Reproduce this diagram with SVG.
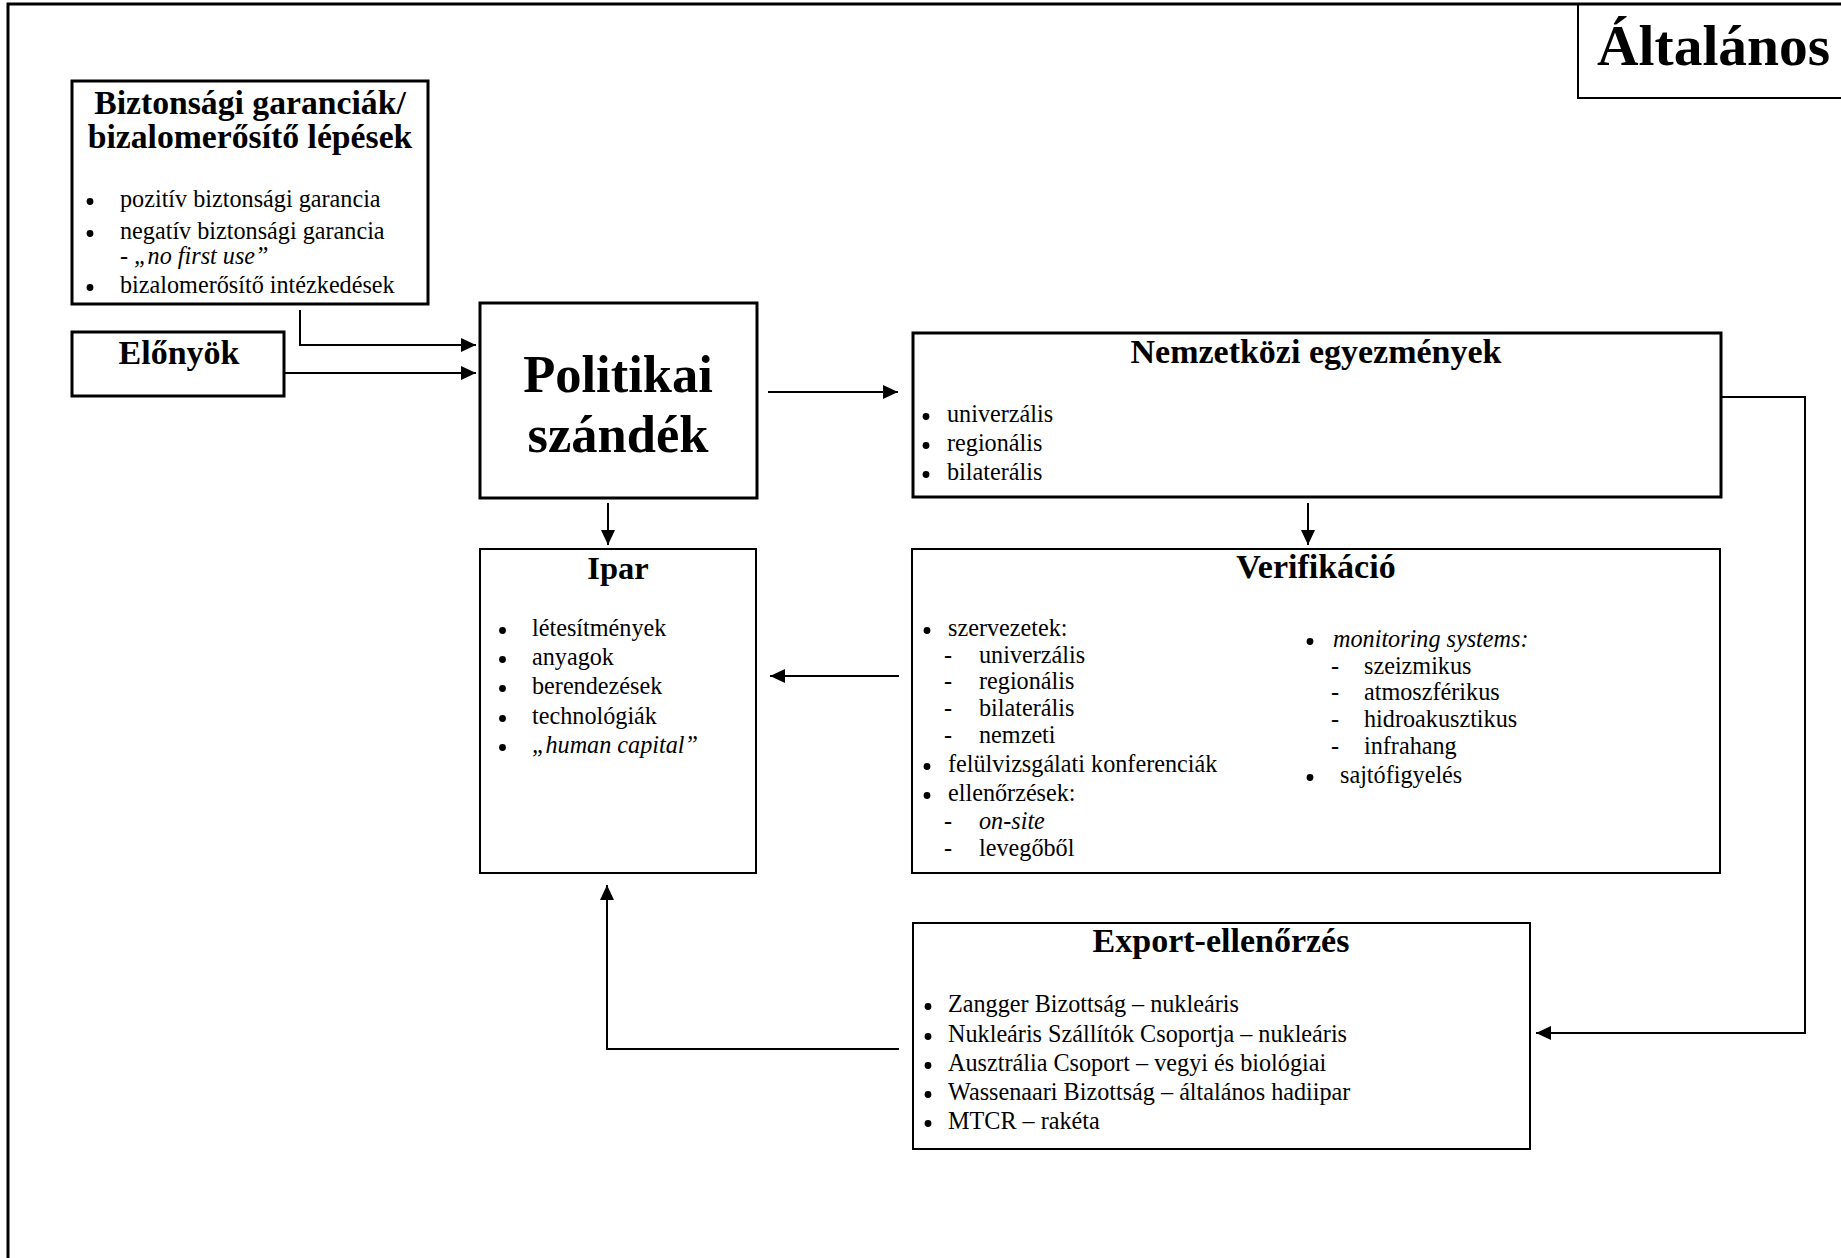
<svg xmlns="http://www.w3.org/2000/svg" width="1841" height="1258" viewBox="0 0 1841 1258">
<defs>
<marker id="ah" markerUnits="userSpaceOnUse" markerWidth="16" markerHeight="14" refX="15" refY="7" orient="auto">
<path d="M0,0 L15,7 L0,14 z" fill="#000"/>
</marker>
<style>
text{font-family:"Liberation Serif","Times New Roman",serif;fill:#000}
.t{font-weight:bold;font-size:34px;text-anchor:middle}
.b{font-size:24.2px}
.i{font-style:italic}
.box{fill:#fff;stroke:#000;stroke-width:2}
.thick{stroke-width:3}
.con{fill:none;stroke:#000;stroke-width:2}
circle{fill:#000}
</style>
</defs>
<rect width="1841" height="1258" fill="#fff"/>
<g id="frame">
<path d="M8,1258 V4 H1841" fill="none" stroke="#000" stroke-width="3"/>
</g>
<g id="title">
<path d="M1578,4 V98 H1841" fill="none" stroke="#000" stroke-width="2"/>
<text x="1597" y="65" style="font-weight:bold;font-size:57.5px">Általános</text>
</g>
<g id="biztonsagi">
<rect class="box thick" x="72" y="81" width="356" height="223"/>
<text class="t" x="250" y="114" style="font-size:33.7px">Biztonsági garanciák/</text>
<text class="t" x="250" y="148" style="font-size:33.7px">bizalomerősítő lépések</text>
<circle cx="90" cy="201.5" r="3.4"/><text class="b" x="120" y="207">pozitív biztonsági garancia</text>
<circle cx="90" cy="233.5" r="3.4"/><text class="b" x="120" y="239">negatív biztonsági garancia</text>
<text class="b" x="120" y="264">- <tspan class="i">„no first use”</tspan></text>
<circle cx="90" cy="287.5" r="3.4"/><text class="b" x="120" y="293">bizalomerősítő intézkedések</text>
</g>
<g id="elonyok">
<rect class="box thick" x="72" y="332" width="212" height="64"/>
<text class="t" x="179" y="364">Előnyök</text>
</g>
<g id="politikai">
<rect class="box thick" x="480" y="303" width="277" height="195"/>
<text class="t" x="618" y="392" style="font-size:52.5px">Politikai</text>
<text class="t" x="618" y="452" style="font-size:52.5px">szándék</text>
</g>
<g id="nemzetkozi">
<rect class="box thick" x="913" y="333" width="808" height="164"/>
<text class="t" x="1316" y="363">Nemzetközi egyezmények</text>
<circle cx="926" cy="416.5" r="3.4"/><text class="b" x="947" y="422">univerzális</text>
<circle cx="926" cy="445.5" r="3.4"/><text class="b" x="947" y="451">regionális</text>
<circle cx="926" cy="474.5" r="3.4"/><text class="b" x="947" y="480">bilaterális</text>
</g>
<g id="ipar">
<rect class="box" x="480" y="549" width="276" height="324"/>
<text class="t" x="618" y="579" style="font-size:32.5px">Ipar</text>
<circle cx="502.5" cy="630.5" r="3.4"/><text class="b" x="532" y="636">létesítmények</text>
<circle cx="502.5" cy="659.5" r="3.4"/><text class="b" x="532" y="665">anyagok</text>
<circle cx="502.5" cy="688.5" r="3.4"/><text class="b" x="532" y="694">berendezések</text>
<circle cx="502.5" cy="718.5" r="3.4"/><text class="b" x="532" y="724">technológiák</text>
<circle cx="502.5" cy="747.5" r="3.4"/><text class="b i" x="532" y="753">„human capital”</text>
</g>
<g id="verifikacio">
<rect class="box" x="912" y="549" width="808" height="324"/>
<text class="t" x="1316" y="578">Verifikáció</text>
<circle cx="927" cy="630.5" r="3.4"/><text class="b" x="948" y="636">szervezetek:</text>
<text class="b" x="944" y="663">-</text><text class="b" x="979" y="663">univerzális</text>
<text class="b" x="944" y="689">-</text><text class="b" x="979" y="689">regionális</text>
<text class="b" x="944" y="716">-</text><text class="b" x="979" y="716">bilaterális</text>
<text class="b" x="944" y="743">-</text><text class="b" x="979" y="743">nemzeti</text>
<circle cx="927" cy="766.5" r="3.4"/><text class="b" x="948" y="772">felülvizsgálati konferenciák</text>
<circle cx="927" cy="795.5" r="3.4"/><text class="b" x="948" y="801">ellenőrzések:</text>
<text class="b" x="944" y="829">-</text><text class="b i" x="979" y="829">on-site</text>
<text class="b" x="944" y="856">-</text><text class="b" x="979" y="856">levegőből</text>
<circle cx="1310" cy="641.5" r="3.4"/><text class="b i" x="1333" y="647">monitoring systems:</text>
<text class="b" x="1331" y="674">-</text><text class="b" x="1364" y="674">szeizmikus</text>
<text class="b" x="1331" y="700">-</text><text class="b" x="1364" y="700">atmoszférikus</text>
<text class="b" x="1331" y="727">-</text><text class="b" x="1364" y="727">hidroakusztikus</text>
<text class="b" x="1331" y="754">-</text><text class="b" x="1364" y="754">infrahang</text>
<circle cx="1310" cy="777.5" r="3.4"/><text class="b" x="1340" y="783">sajtófigyelés</text>
</g>
<g id="export">
<rect class="box" x="913" y="923" width="617" height="226"/>
<text class="t" x="1221" y="952">Export-ellenőrzés</text>
<circle cx="928" cy="1006.5" r="3.4"/><text class="b" x="948" y="1012">Zangger Bizottság – nukleáris</text>
<circle cx="928" cy="1036.5" r="3.4"/><text class="b" x="948" y="1042">Nukleáris Szállítók Csoportja – nukleáris</text>
<circle cx="928" cy="1065.5" r="3.4"/><text class="b" x="948" y="1071">Ausztrália Csoport – vegyi és biológiai</text>
<circle cx="928" cy="1094.5" r="3.4"/><text class="b" x="948" y="1100">Wassenaari Bizottság – általános hadiipar</text>
<circle cx="928" cy="1123.5" r="3.4"/><text class="b" x="948" y="1129">MTCR – rakéta</text>
</g>
<g id="connectors">
<path class="con" d="M300,310 V345 H476" marker-end="url(#ah)"/>
<path class="con" d="M284,373 H476" marker-end="url(#ah)"/>
<path class="con" d="M768,392 H898" marker-end="url(#ah)"/>
<path class="con" d="M608,503 V545" marker-end="url(#ah)"/>
<path class="con" d="M1308,503 V545" marker-end="url(#ah)"/>
<path class="con" d="M899,676 H770" marker-end="url(#ah)"/>
<path class="con" d="M1721,397 H1805 V1033 H1536" marker-end="url(#ah)"/>
<path class="con" d="M899,1049 H607 V885" marker-end="url(#ah)"/>
</g>
</svg>
